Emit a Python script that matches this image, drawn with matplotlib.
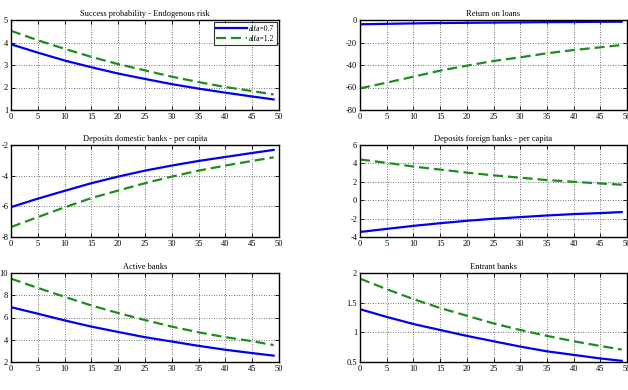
import matplotlib
matplotlib.use("Agg")
import matplotlib.pyplot as plt
from matplotlib.ticker import FuncFormatter

x = [0, 5, 10, 15, 20, 25, 30, 35, 40, 45, 49]

succ_a07 = [3.92, 3.55, 3.20, 2.90, 2.62, 2.38, 2.15, 1.95, 1.77, 1.60, 1.47]
succ_a12 = [4.52, 4.10, 3.72, 3.36, 3.04, 2.76, 2.48, 2.24, 2.02, 1.84, 1.69]

ret_a07 = [-3.8, -3.4, -3.0, -2.7, -2.5, -2.3, -2.1, -1.9, -1.8, -1.6, -1.5]
ret_a12 = [-60.7, -55.7, -50.4, -45.0, -40.6, -36.4, -33.2, -29.6, -26.7, -24.3, -22.2]

dom_a07 = [-6.05, -5.50, -4.99, -4.49, -4.06, -3.67, -3.34, -3.04, -2.78, -2.52, -2.32]
dom_a12 = [-7.35, -6.70, -6.07, -5.46, -4.97, -4.49, -4.06, -3.67, -3.34, -3.04, -2.80]

for_a07 = [-3.45, -3.12, -2.79, -2.50, -2.24, -2.02, -1.84, -1.66, -1.51, -1.40, -1.29]
for_a12 = [4.43, 4.06, 3.66, 3.33, 3.00, 2.70, 2.45, 2.19, 2.00, 1.82, 1.68]

act_a07 = [6.93, 6.34, 5.74, 5.18, 4.70, 4.23, 3.84, 3.45, 3.10, 2.80, 2.57]
act_a12 = [9.49, 8.66, 7.86, 7.08, 6.40, 5.77, 5.18, 4.67, 4.23, 3.87, 3.52]

ent_a07 = [1.39, 1.26, 1.14, 1.04, 0.94, 0.85, 0.76, 0.68, 0.62, 0.56, 0.52]
ent_a12 = [1.905, 1.727, 1.56, 1.41, 1.28, 1.15, 1.04, 0.94, 0.85, 0.77, 0.71]

titles = ["Success probability - Endogenous risk", "Return on loans",
          "Deposits domestic banks - per capita", "Deposits foreign banks - per capita",
          "Active banks", "Entrant banks"]
series = [(succ_a07, succ_a12), (ret_a07, ret_a12), (dom_a07, dom_a12),
          (for_a07, for_a12), (act_a07, act_a12), (ent_a07, ent_a12)]
ylims = [(1, 5), (-80, 0), (-8, -2), (-4, 6), (2, 10), (0.5, 2)]
yticks = [[1, 2, 3, 4, 5], [-80, -60, -40, -20, 0], [-8, -6, -4, -2],
          [-4, -2, 0, 2, 4, 6], [2, 4, 6, 8, 10], [0.5, 1, 1.5, 2]]
legend_labels = ["alfa=0.7", "alfa=1.2"]
xticks = list(range(0, 55, 5))

plt.rcParams['font.family'] = ['Liberation Serif', 'DejaVu Serif']

W, H = 628, 390
fig = plt.figure(figsize=(W / 100, H / 100), dpi=100)

cols = [(11, 279), (360, 627)]
rows = [(20, 110), (145, 237), (273, 362)]

fmt = FuncFormatter(lambda v, p: ('%g' % v))

for i in range(6):
    r, c = divmod(i, 2)
    x0, x1 = cols[c]
    y0, y1 = rows[r]
    ax = fig.add_axes([x0 / W, 1 - y1 / H, (x1 - x0) / W, (y1 - y0) / H])
    a, b = series[i]
    l1, = ax.plot(x, a, color='#0000f0', lw=1.6, ls='-')
    l2, = ax.plot(x, b, color='#1e8c1e', lw=1.6, ls=(0, (4.5, 2.2)))
    ax.set_xlim(0, 50)
    ax.set_ylim(*ylims[i])
    ax.set_xticks(xticks)
    ax.set_yticks(yticks[i])
    ax.yaxis.set_major_formatter(fmt)
    ax.grid(True, color='#444444', ls=(0, (1, 2)), lw=0.6)
    ax.tick_params(direction='in', length=3, width=0.6, labelsize=6, pad=2,
                   top=True, right=True)
    for s in ax.spines.values():
        s.set_linewidth(1.0)
    ax.set_title(titles[i], fontsize=6, pad=3)
    if i == 0:
        leg = ax.legend([l1, l2], legend_labels, loc='upper right', fontsize=5.5,
                        handlelength=4, frameon=True, fancybox=False,
                        edgecolor='black', borderpad=0.3, labelspacing=0.3,
                        handletextpad=0.3, borderaxespad=0.3)
        leg.get_frame().set_linewidth(0.8)

fig.savefig("out.png", dpi=100)
